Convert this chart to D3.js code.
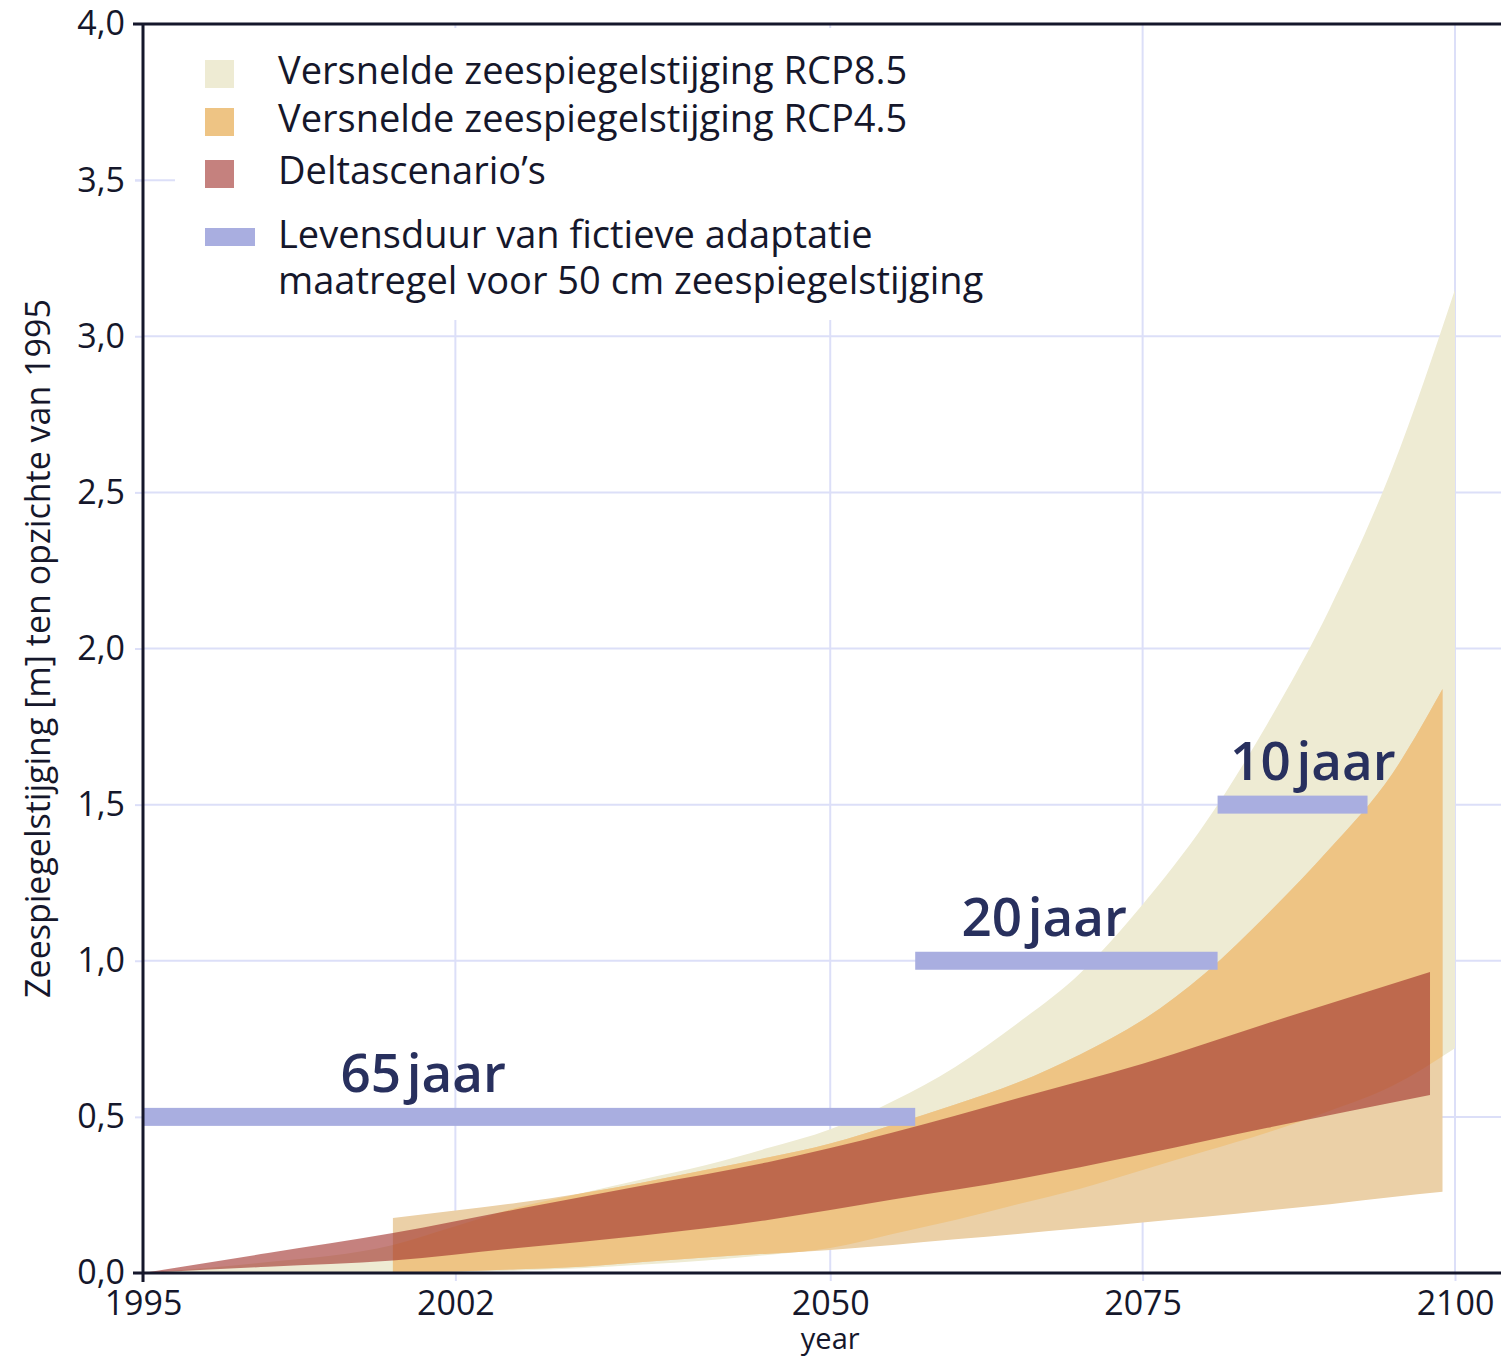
<!DOCTYPE html>
<html>
<head>
<meta charset="utf-8">
<script src="https://cdn.jsdelivr.net/npm/d3@7"></script>
<style>
  body { margin: 0; background: #fff; }
  svg { display: block; font-family: 'Open Sans', sans-serif; }
</style>
</head>
<body>
<script>
// RCP8.5 band (cream)
const rcp85Years = [1995, 2005, 2015, 2020, 2025, 2030, 2035, 2040, 2045, 2050, 2055, 2060, 2065, 2070, 2075, 2080, 2085, 2090, 2095, 2100];
const rcp85Low  = [0, 0, 0, 0.003, 0.008, 0.015, 0.027, 0.04, 0.058, 0.08, 0.125, 0.17, 0.22, 0.27, 0.33, 0.39, 0.45, 0.52, 0.60, 0.72];
const rcp85High = [0, 0.035, 0.09, 0.15, 0.21, 0.255, 0.30, 0.345, 0.40, 0.46, 0.55, 0.66, 0.80, 0.96, 1.18, 1.44, 1.76, 2.13, 2.58, 3.15];

// RCP4.5 band (orange)
const rcp45Years = [2015, 2020, 2025, 2030, 2035, 2040, 2045, 2050, 2055, 2060, 2065, 2070, 2075, 2080, 2085, 2090, 2095, 2099];
const rcp45Low  = [0, 0.005, 0.012, 0.02, 0.035, 0.05, 0.062, 0.074, 0.09, 0.108, 0.125, 0.143, 0.162, 0.18, 0.20, 0.22, 0.243, 0.26];
const rcp45High = [0.176, 0.20, 0.225, 0.255, 0.29, 0.33, 0.37, 0.415, 0.475, 0.54, 0.61, 0.70, 0.81, 0.96, 1.15, 1.36, 1.60, 1.87];

// Deltascenario's
const deltaYears = [1995, 2005, 2015, 2025, 2035, 2045, 2055, 2065, 2075, 2085, 2098];
const deltaLow  = [0, 0.02, 0.04, 0.08, 0.12, 0.17, 0.235, 0.30, 0.38, 0.465, 0.57];
const deltaHigh = [0, 0.064, 0.128, 0.205, 0.28, 0.355, 0.45, 0.56, 0.67, 0.80, 0.964];

// lifetime of the adaptation measure
const lifeLabels = ['65 jaar', '20 jaar', '10 jaar'];
const lifeStart = [1995, 2056.8, 2081];
const lifeEnd = [2056.8, 2081, 2093];
const lifeLevel = [0.5, 1.0, 1.5];
const lifeLabelYear = [2010.8, 2060.5, 2082];

const xTicks = [1995, 2020, 2050, 2075, 2100];
const xTickLabels = ['1995', '2002', '2050', '2075', '2100'];
const yTicks = [0, 0.5, 1, 1.5, 2, 2.5, 3, 3.5, 4];
const yTickLabels = ['0,0', '0,5', '1,0', '1,5', '2,0', '2,5', '3,0', '3,5', '4,0'];

const legendLabels = [
  'Versnelde zeespiegelstijging RCP8.5',
  'Versnelde zeespiegelstijging RCP4.5',
  'Deltascenario\u2019s'
];
const legendLife = ['Levensduur van fictieve adaptatie', 'maatregel voor 50 cm zeespiegelstijging'];

const width = 1501, height = 1360;
const mLeft = 143, mTop = 24, mBottom = 1273;

const cCream = '#eeebd3', cPeach = '#ebd0a7', cOrange = '#eec484';
const cDelta = '#9e2d28', cBlue = '#a9aee0', cGrid = '#dcdff8', cInk = '#15172b', cLabel = '#28305e';

const x = d3.scaleLinear().domain([1995, 2100]).range([mLeft, 1455]);
const y = d3.scaleLinear().domain([0, 4]).range([mBottom, mTop]);

const svg = d3.select('body').append('svg')
  .attr('width', width).attr('height', height);

const zip = (yrs, lo, hi) => yrs.map((d, i) => ({ year: d, lo: lo[i], hi: hi[i] }));
const area = d3.area()
  .x(d => x(d.year)).y0(d => y(d.lo)).y1(d => y(d.hi))
  .curve(d3.curveMonotoneX);

// grid
svg.append('g').selectAll('line')
  .data(yTicks.filter(d => d > 0 && d <= 3))
  .enter().append('line')
  .attr('x1', mLeft).attr('x2', width)
  .attr('y1', d => y(d)).attr('y2', d => y(d))
  .attr('stroke', cGrid).attr('stroke-width', 2);
svg.append('line')
  .attr('x1', mLeft - 8).attr('x2', mLeft + 32)
  .attr('y1', y(3.5)).attr('y2', y(3.5))
  .attr('stroke', cGrid).attr('stroke-width', 2);
svg.append('g').selectAll('line')
  .data(xTicks.slice(1))
  .enter().append('line')
  .attr('x1', d => x(d)).attr('x2', d => x(d))
  .attr('y1', mTop).attr('y2', mBottom)
  .attr('stroke', cGrid).attr('stroke-width', 2);

// bands
const rcp85 = zip(rcp85Years, rcp85Low, rcp85High);
const rcp45 = zip(rcp45Years, rcp45Low, rcp45High);
const delta = zip(deltaYears, deltaLow, deltaHigh);

svg.append('clipPath').attr('id', 'clip85')
  .append('path').attr('d', area(rcp85));

svg.append('path').attr('d', area(rcp85)).attr('fill', cCream);
svg.append('path').attr('d', area(rcp45)).attr('fill', cPeach);
svg.append('path').attr('d', area(rcp45)).attr('fill', cOrange)
  .attr('clip-path', 'url(#clip85)');
svg.append('path').attr('d', area(delta)).attr('fill', cDelta).attr('fill-opacity', 0.6);

// lifetime bars
const life = lifeLabels.map((d, i) => ({
  label: d, start: lifeStart[i], end: lifeEnd[i], level: lifeLevel[i], ly: lifeLabelYear[i]
}));
svg.append('g').selectAll('rect')
  .data(life).enter().append('rect')
  .attr('x', d => x(d.start))
  .attr('width', d => x(d.end) - x(d.start))
  .attr('y', d => y(d.level) - 9)
  .attr('height', 18)
  .attr('fill', cBlue);
svg.append('g').selectAll('text')
  .data(life).enter().append('text')
  .attr('x', d => x(d.ly))
  .attr('y', d => y(d.level) - 25)
  .attr('font-size', 53)
  .attr('font-weight', 600)
  .attr('word-spacing', -8)
  .attr('fill', cLabel)
  .text(d => d.label);

// legend box
svg.append('rect')
  .attr('x', 176).attr('y', mTop + 4).attr('width', 860).attr('height', 292)
  .attr('fill', '#fff');

const legendFills = [cCream, cOrange, null];
const legendY = [60, 108, 160];
legendLabels.forEach((t, i) => {
  const r = svg.append('rect').attr('x', 205).attr('y', legendY[i]).attr('width', 29).attr('height', 28);
  if (i < 2) r.attr('fill', legendFills[i]);
  else r.attr('fill', cDelta).attr('fill-opacity', 0.6);
  svg.append('text').attr('x', 278).attr('y', legendY[i] + 24)
    .attr('font-size', 38).attr('fill', cInk).text(t);
});
svg.append('rect').attr('x', 205).attr('y', 228).attr('width', 50).attr('height', 18).attr('fill', cBlue);
legendLife.forEach((t, i) => {
  svg.append('text').attr('x', 278).attr('y', 248 + i * 46)
    .attr('font-size', 38).attr('fill', cInk).text(t);
});

// axes
const xAxis = d3.axisBottom(x).tickValues(xTicks)
  .tickFormat((d, i) => xTickLabels[i]).tickSize(8).tickPadding(10);
const yAxis = d3.axisLeft(y).tickValues(yTicks)
  .tickFormat((d, i) => yTickLabels[i]).tickSize(8).tickPadding(10);

const gx = svg.append('g').attr('transform', `translate(0,${mBottom})`).call(xAxis);
const gy = svg.append('g').attr('transform', `translate(${mLeft},0)`).call(yAxis);
[gx, gy].forEach(g => {
  g.select('.domain').remove();
  g.selectAll('.tick line').attr('stroke', cGrid).attr('stroke-width', 2);
  g.selectAll('.tick text').attr('font-size', 34).attr('fill', cInk)
    .attr('font-family', "'Open Sans', sans-serif");
});

// frame
svg.append('line').attr('x1', mLeft - 10).attr('x2', width).attr('y1', mTop).attr('y2', mTop)
  .attr('stroke', cInk).attr('stroke-width', 3);
svg.append('line').attr('x1', mLeft - 10).attr('x2', width).attr('y1', mBottom).attr('y2', mBottom)
  .attr('stroke', cInk).attr('stroke-width', 3);
svg.append('line').attr('x1', mLeft).attr('x2', mLeft).attr('y1', mTop).attr('y2', mBottom + 9)
  .attr('stroke', cInk).attr('stroke-width', 3);

// axis titles
svg.append('text')
  .attr('x', x(2050)).attr('y', 1349)
  .attr('text-anchor', 'middle').attr('font-size', 29).attr('fill', cInk)
  .text('year');
svg.append('text')
  .attr('transform', `translate(50,${y(2.0)}) rotate(-90)`)
  .attr('text-anchor', 'middle').attr('font-size', 34).attr('fill', cInk)
  .text('Zeespiegelstijging [m] ten opzichte van 1995');
</script>
</body>
</html>
